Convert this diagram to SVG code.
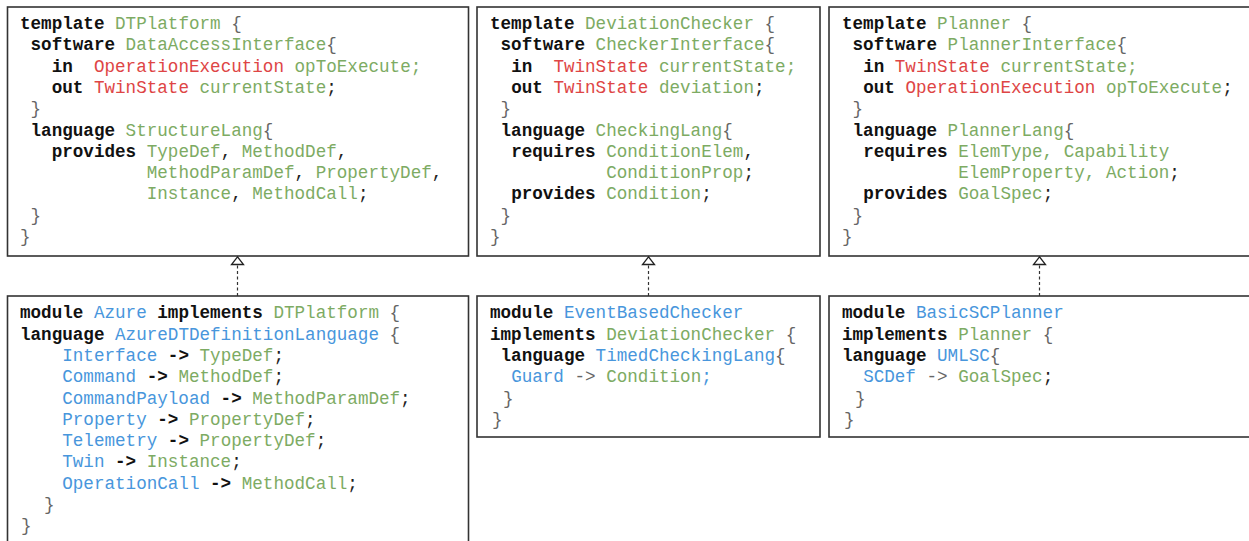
<svg xmlns="http://www.w3.org/2000/svg" width="1249" height="541" viewBox="0 0 1249 541">
  <style>
    text { font-family: "Liberation Mono", "Courier New", monospace; font-size: 17.6px; fill: #222222; white-space: pre; }
    .box { fill: #ffffff; stroke: #333333; stroke-width: 1.6; }
    .k { font-weight: bold; fill: #111111; }
    .g { fill: #7dab63; }
    .r { fill: #de4545; }
    .b { fill: #4896dc; }
    .p { fill: #666666; }
    .link { stroke: #333333; stroke-width: 1.2; stroke-dasharray: 3 2.5; fill: none; }
    .head { fill: #ffffff; stroke: #222222; stroke-width: 1.3; }
  </style>
  <rect width="1249" height="541" fill="#ffffff"/>

  <!-- template: DTPlatform -->
  <g id="tpl-dtplatform">
    <rect class="box" x="7.5" y="7" width="461" height="249"/>
    <text x="20" y="29" xml:space="preserve"><tspan class="k">template</tspan> <tspan class="g">DTPlatform</tspan> <tspan class="p">{</tspan></text>
    <text x="20" y="50.3" xml:space="preserve"> <tspan class="k">software</tspan> <tspan class="g">DataAccessInterface</tspan><tspan class="p">{</tspan></text>
    <text x="20" y="71.6" xml:space="preserve">   <tspan class="k">in</tspan>  <tspan class="r">OperationExecution</tspan> <tspan class="g">opToExecute;</tspan></text>
    <text x="20" y="92.9" xml:space="preserve">   <tspan class="k">out</tspan> <tspan class="r">TwinState</tspan> <tspan class="g">currentState</tspan>;</text>
    <text x="20" y="114.2" xml:space="preserve"> <tspan class="p">}</tspan></text>
    <text x="20" y="135.5" xml:space="preserve"> <tspan class="k">language</tspan> <tspan class="g">StructureLang</tspan><tspan class="p">{</tspan></text>
    <text x="20" y="156.8" xml:space="preserve">   <tspan class="k">provides</tspan> <tspan class="g">TypeDef</tspan>, <tspan class="g">MethodDef</tspan>,</text>
    <text x="20" y="178.1" xml:space="preserve">            <tspan class="g">MethodParamDef</tspan>, <tspan class="g">PropertyDef</tspan>,</text>
    <text x="20" y="199.4" xml:space="preserve">            <tspan class="g">Instance</tspan>, <tspan class="g">MethodCall</tspan>;</text>
    <text x="20" y="220.7" xml:space="preserve"> <tspan class="p">}</tspan></text>
    <text x="20" y="242" class="p">}</text>
  </g>

  <!-- template: DeviationChecker -->
  <g id="tpl-deviationchecker">
    <rect class="box" x="477" y="7" width="343" height="249"/>
    <text x="490" y="29" xml:space="preserve"><tspan class="k">template</tspan> <tspan class="g">DeviationChecker</tspan> <tspan class="p">{</tspan></text>
    <text x="490" y="50.3" xml:space="preserve"> <tspan class="k">software</tspan> <tspan class="g">CheckerInterface</tspan><tspan class="p">{</tspan></text>
    <text x="490" y="71.6" xml:space="preserve">  <tspan class="k">in</tspan>  <tspan class="r">TwinState</tspan> <tspan class="g">currentState;</tspan></text>
    <text x="490" y="92.9" xml:space="preserve">  <tspan class="k">out</tspan> <tspan class="r">TwinState</tspan> <tspan class="g">deviation</tspan>;</text>
    <text x="490" y="114.2" xml:space="preserve"> <tspan class="p">}</tspan></text>
    <text x="490" y="135.5" xml:space="preserve"> <tspan class="k">language</tspan> <tspan class="g">CheckingLang</tspan><tspan class="p">{</tspan></text>
    <text x="490" y="156.8" xml:space="preserve">  <tspan class="k">requires</tspan> <tspan class="g">ConditionElem</tspan>,</text>
    <text x="490" y="178.1" xml:space="preserve">           <tspan class="g">ConditionProp</tspan>;</text>
    <text x="490" y="199.4" xml:space="preserve">  <tspan class="k">provides</tspan> <tspan class="g">Condition</tspan>;</text>
    <text x="490" y="220.7" xml:space="preserve"> <tspan class="p">}</tspan></text>
    <text x="490" y="242" class="p">}</text>
  </g>

  <!-- template: Planner -->
  <g id="tpl-planner">
    <rect class="box" x="829" y="7" width="430" height="249"/>
    <text x="842" y="29" xml:space="preserve"><tspan class="k">template</tspan> <tspan class="g">Planner</tspan> <tspan class="p">{</tspan></text>
    <text x="842" y="50.3" xml:space="preserve"> <tspan class="k">software</tspan> <tspan class="g">PlannerInterface</tspan><tspan class="p">{</tspan></text>
    <text x="842" y="71.6" xml:space="preserve">  <tspan class="k">in</tspan> <tspan class="r">TwinState</tspan> <tspan class="g">currentState;</tspan></text>
    <text x="842" y="92.9" xml:space="preserve">  <tspan class="k">out</tspan> <tspan class="r">OperationExecution</tspan> <tspan class="g">opToExecute</tspan>;</text>
    <text x="842" y="114.2" xml:space="preserve"> <tspan class="p">}</tspan></text>
    <text x="842" y="135.5" xml:space="preserve"> <tspan class="k">language</tspan> <tspan class="g">PlannerLang</tspan><tspan class="p">{</tspan></text>
    <text x="842" y="156.8" xml:space="preserve">  <tspan class="k">requires</tspan> <tspan class="g">ElemType, Capability</tspan></text>
    <text x="842" y="178.1" xml:space="preserve">           <tspan class="g">ElemProperty, Action</tspan>;</text>
    <text x="842" y="199.4" xml:space="preserve">  <tspan class="k">provides</tspan> <tspan class="g">GoalSpec</tspan>;</text>
    <text x="842" y="220.7" xml:space="preserve"> <tspan class="p">}</tspan></text>
    <text x="842" y="242" class="p">}</text>
  </g>

  <!-- module: Azure -->
  <g id="mod-azure">
    <rect class="box" x="7.5" y="296" width="461" height="260"/>
    <text x="20" y="318.3" xml:space="preserve"><tspan class="k">module</tspan> <tspan class="b">Azure</tspan> <tspan class="k">implements</tspan> <tspan class="g">DTPlatform</tspan> <tspan class="p">{</tspan></text>
    <text x="20" y="339.6" xml:space="preserve"><tspan class="k">language</tspan> <tspan class="b">AzureDTDefinitionLanguage</tspan> <tspan class="p">{</tspan></text>
    <text x="20" y="360.9" xml:space="preserve">    <tspan class="b">Interface</tspan> <tspan class="k">-&gt;</tspan> <tspan class="g">TypeDef</tspan>;</text>
    <text x="20" y="382.2" xml:space="preserve">    <tspan class="b">Command</tspan> <tspan class="k">-&gt;</tspan> <tspan class="g">MethodDef</tspan>;</text>
    <text x="20" y="403.5" xml:space="preserve">    <tspan class="b">CommandPayload</tspan> <tspan class="k">-&gt;</tspan> <tspan class="g">MethodParamDef</tspan>;</text>
    <text x="20" y="424.8" xml:space="preserve">    <tspan class="b">Property</tspan> <tspan class="k">-&gt;</tspan> <tspan class="g">PropertyDef</tspan>;</text>
    <text x="20" y="446.1" xml:space="preserve">    <tspan class="b">Telemetry</tspan> <tspan class="k">-&gt;</tspan> <tspan class="g">PropertyDef</tspan>;</text>
    <text x="20" y="467.4" xml:space="preserve">    <tspan class="b">Twin</tspan> <tspan class="k">-&gt;</tspan> <tspan class="g">Instance</tspan>;</text>
    <text x="20" y="488.7" xml:space="preserve">    <tspan class="b">OperationCall</tspan> <tspan class="k">-&gt;</tspan> <tspan class="g">MethodCall</tspan>;</text>
    <text x="44" y="510" class="p">}</text>
    <text x="21" y="531.3" class="p">}</text>
  </g>

  <!-- module: EventBasedChecker -->
  <g id="mod-eventbasedchecker">
    <rect class="box" x="477" y="296" width="343" height="141"/>
    <text x="490" y="318.3" xml:space="preserve"><tspan class="k">module</tspan> <tspan class="b">EventBasedChecker</tspan></text>
    <text x="490" y="339.6" xml:space="preserve"><tspan class="k">implements</tspan> <tspan class="g">DeviationChecker</tspan> <tspan class="p">{</tspan></text>
    <text x="490" y="360.9" xml:space="preserve"> <tspan class="k">language</tspan> <tspan class="b">TimedCheckingLang</tspan><tspan class="p">{</tspan></text>
    <text x="490" y="382.2" xml:space="preserve">  <tspan class="b">Guard</tspan> <tspan class="p">-&gt;</tspan> <tspan class="g">Condition</tspan><tspan class="b">;</tspan></text>
    <text x="503" y="403.5" class="p">}</text>
    <text x="492" y="424.8" class="p">}</text>
  </g>

  <!-- module: BasicSCPlanner -->
  <g id="mod-basicscplanner">
    <rect class="box" x="829" y="296" width="430" height="141"/>
    <text x="842" y="318.3" xml:space="preserve"><tspan class="k">module</tspan> <tspan class="b">BasicSCPlanner</tspan></text>
    <text x="842" y="339.6" xml:space="preserve"><tspan class="k">implements</tspan> <tspan class="g">Planner</tspan> <tspan class="p">{</tspan></text>
    <text x="842" y="360.9" xml:space="preserve"><tspan class="k">language</tspan> <tspan class="b">UMLSC</tspan><tspan class="p">{</tspan></text>
    <text x="842" y="382.2" xml:space="preserve">  <tspan class="b">SCDef</tspan> <tspan class="p">-&gt;</tspan> <tspan class="g">GoalSpec</tspan>;</text>
    <text x="855" y="403.5" class="p">}</text>
    <text x="844" y="424.8" class="p">}</text>
  </g>

  <!-- "implements" realization links: dashed line with hollow triangle -->
  <g id="connectors">
    <line class="link" x1="237.5" y1="296" x2="237.5" y2="264.5"/>
    <polygon class="head" points="237.5,256.8 231.5,264.5 243.5,264.5"/>
    <line class="link" x1="648.5" y1="296" x2="648.5" y2="264.5"/>
    <polygon class="head" points="648.5,256.8 642.5,264.5 654.5,264.5"/>
    <line class="link" x1="1039.5" y1="296" x2="1039.5" y2="264.5"/>
    <polygon class="head" points="1039.5,256.8 1033.5,264.5 1045.5,264.5"/>
  </g>
</svg>
